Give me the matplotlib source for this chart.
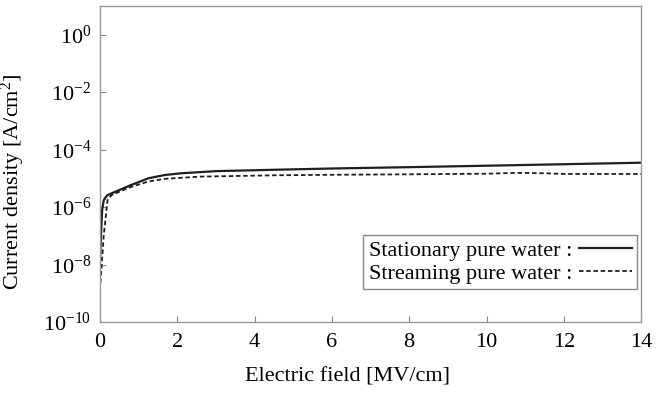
import math
import matplotlib
matplotlib.use("Agg")
import matplotlib.pyplot as plt
from matplotlib.ticker import FixedLocator, FuncFormatter, NullLocator

plt.rcParams['font.family'] = ['Liberation Serif']
plt.rcParams['mathtext.fontset'] = 'custom'
plt.rcParams['mathtext.rm'] = 'Liberation Serif'
plt.rcParams['mathtext.it'] = 'Liberation Serif:italic'
plt.rcParams['mathtext.bf'] = 'Liberation Serif:bold'

# Stationary pure water (solid)
stat_x = [0, 0.03, 0.06, 0.1, 0.15, 0.2, 0.35, 0.8, 1.25, 1.67, 2.1, 3, 4.6, 6, 8, 10, 12, 14]
stat_y = [1e-8, 1e-7, 8e-7, 1.7e-6, 2.2e-6, 2.6e-6, 3.2e-6, 5.8e-6, 1.0e-5, 1.3e-5, 1.5e-5,
          1.78e-5, 2.0e-5, 2.2e-5, 2.45e-5, 2.75e-5, 3.1e-5, 3.5e-5]
# Streaming pure water (dashed)
strm_x = [0, 0.05, 0.1, 0.2, 0.3, 0.5, 0.8, 1.25, 1.67, 2.6, 4.6, 6, 8, 10, 10.8, 11.5, 12, 14]
strm_y = [1.3e-9, 1e-8, 1e-7, 1.8e-6, 2.6e-6, 3.4e-6, 5.0e-6, 7.7e-6, 9.6e-6, 1.15e-5, 1.28e-5,
          1.33e-5, 1.38e-5, 1.45e-5, 1.55e-5, 1.5e-5, 1.42e-5, 1.42e-5]

xticks = [0, 2, 4, 6, 8, 10, 12, 14]
yticks = [1e-10, 1e-8, 1e-6, 1e-4, 1e-2, 1e0]

fig = plt.figure(figsize=(6.7, 3.98), dpi=100)
ax = fig.add_axes([0.149, 0.191, 0.808, 0.794])
ax.plot(stat_x, stat_y, color='#1e1e1e', lw=1.6, ls='-', label='Stationary pure water :')
ax.plot(strm_x, strm_y, color='#1e1e1e', lw=1.3, ls=(0, (2.5, 1.5)), label='Streaming pure water :')
ax.set_yscale('log')
ax.set_xlim(0, 14)
ax.set_ylim(1e-10, 1e1)
ax.xaxis.set_major_locator(FixedLocator(xticks))
ax.yaxis.set_major_locator(FixedLocator(yticks))
ax.yaxis.set_minor_locator(NullLocator())
ax.yaxis.set_major_formatter(FuncFormatter(lambda v, p: r'$\mathregular{10^{%d}}$' % round(math.log10(v))))
ax.tick_params(direction='in', length=4, width=0.8, color='#888888', labelsize=16, pad=8)
ax.tick_params(axis='y', pad=6)
for s in ax.spines.values():
    s.set_color('#999999')
    s.set_linewidth(1.0)
ax.set_xlabel('Electric field [MV/cm]', fontsize=16, labelpad=12)
ax.xaxis.set_label_coords(0.457, -0.145)
ax.set_ylabel(r'Current density [A/cm$\mathregular{^2}$]', fontsize=16)
ax.yaxis.set_label_coords(-0.135, 0.443)
leg = ax.legend(loc='lower right', bbox_to_anchor=(0.993, 0.104), markerfirst=False, fontsize=16,
                fancybox=False, edgecolor='#888888', framealpha=1, handlelength=2.4,
                handletextpad=0.3, borderpad=0.25, labelspacing=0.1, borderaxespad=0)
leg.get_frame().set_linewidth(1.0)
fig.savefig('out.png', dpi=100)
